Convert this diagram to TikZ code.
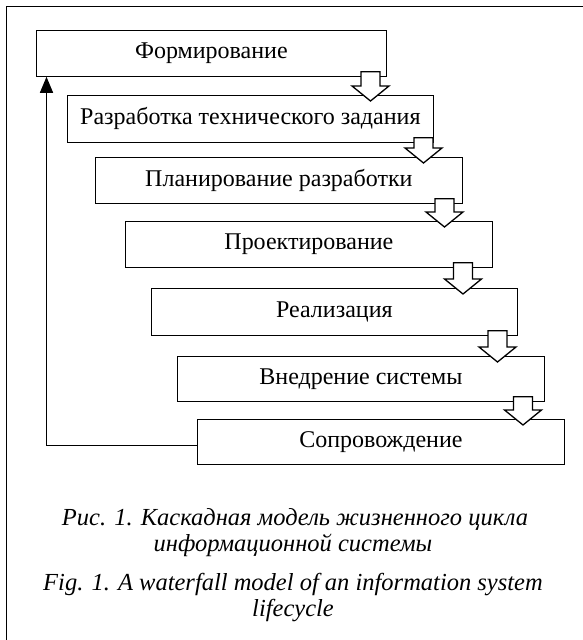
\documentclass[tikz,border=0pt]{standalone}
\usepackage{fontspec}
\setmainfont{Liberation Serif}
\usetikzlibrary{arrows.meta,calc,positioning}

% hollow block arrow from one stage to the next
\newcommand{\stagearrow}[3]{%
  \filldraw[fill=white, line width=1.3pt, line join=miter]
    let \p1=(#2.south), \p2=(#3.north) in
    ({#1pt-9.5pt},{\y1+5pt}) -- ({#1pt+9.5pt},{\y1+5pt})
    -- ({#1pt+9.5pt},{\y2+9pt}) -- ({#1pt+18.5pt},{\y2+9pt})
    -- ({#1pt},{\y2-6pt}) -- ({#1pt-18.5pt},{\y2+9pt})
    -- ({#1pt-9.5pt},{\y2+9pt}) -- cycle;}

\begin{document}
\begin{tikzpicture}[x=1pt, y=-1pt,
  stage/.style={draw, line width=0.8pt, anchor=north west, inner sep=0pt,
    font=\fontsize{24}{28}\selectfont},
  caption/.style={anchor=base, font=\fontsize{24.5}{28}\selectfont\itshape}]
\clip (0,0) rectangle (583,640);
% frame
\draw[line width=0.8pt] (6.5,6.5) rectangle (600,660);
% stages
\node[stage, minimum width=350pt, minimum height=46pt] (form) at (36,30) {Формирование};
\node[stage, minimum width=366pt, minimum height=47pt] (tz) at (67,95) {Разработка технического задания};
\node[stage, minimum width=367pt, minimum height=46pt] (plan) at (95,157) {Планирование разработки};
\node[stage, minimum width=367pt, minimum height=46pt] (proj) at (125,221) {Проектирование};
\node[stage, minimum width=366pt, minimum height=47pt] (real) at (151,288) {Реализация};
\node[stage, minimum width=367pt, minimum height=45pt] (vned) at (177,356) {Внедрение системы};
\node[stage, minimum width=367pt, minimum height=45pt] (sopr) at (197,419) {Сопровождение};
% transitions
\stagearrow{370.5}{form}{tz}
\stagearrow{423.5}{tz}{plan}
\stagearrow{444.5}{plan}{proj}
\stagearrow{463}{proj}{real}
\stagearrow{497.5}{real}{vned}
\stagearrow{523}{vned}{sopr}
% feedback
\draw[line width=1.5pt, -{Triangle[width=13pt, length=16pt]}]
  ([yshift=-3.5pt]sopr.west) -| ([xshift=10.5pt]form.south west);
% captions
\node[caption] (cap1) at (295,525) {Рис. 1. Каскадная модель жизненного цикла};
\node[caption] (cap2) at (293,551) {информационной системы};
\node[caption] (cap3) at (293,590) {Fig. 1. A waterfall model of an information system};
\node[caption] (cap4) at (293,616) {lifecycle};
\end{tikzpicture}
\end{document}
